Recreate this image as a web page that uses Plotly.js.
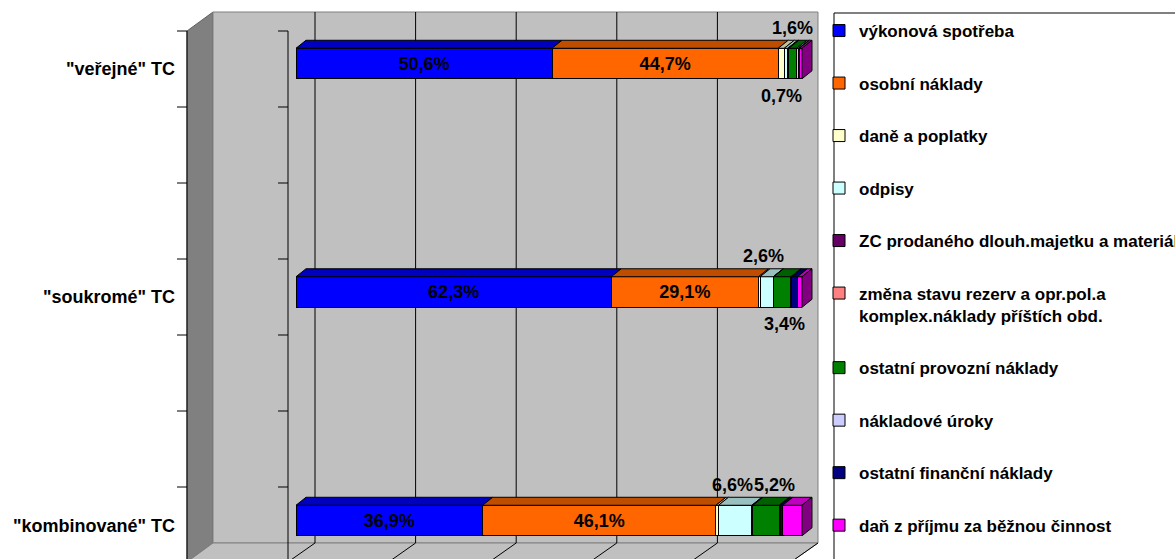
<!DOCTYPE html>
<html><head><meta charset="utf-8">
<script src="https://cdn.plot.ly/plotly-3.0.1.min.js"></script>
<style>html,body{margin:0;padding:0;background:#fff}#chart{width:1175px;height:559px}</style>
</head><body><div id="chart"></div>
<script>
// ---------------- DATA ----------------
const categories = ['"veřejné" TC', '"soukromé" TC', '"kombinované" TC'];
const seriesNames = [
  'výkonová spotřeba',
  'osobní náklady',
  'daně a poplatky',
  'odpisy',
  'ZC prodaného dlouh.majetku a materiálu',
  'změna stavu rezerv a opr.pol.a<br>komplex.náklady příštích obd.',
  'ostatní provozní náklady',
  'nákladové úroky',
  'ostatní finanční náklady',
  'daň z příjmu za běžnou činnost'
];
const vykonovaSpotreba = [50.6, 62.3, 36.9];
const osobniNaklady    = [44.7, 29.1, 46.1];
const danePoplatky     = [1.2, 0.3, 0.5];
const odpisy           = [0.7, 2.6, 6.6];
const zcProdaneho      = [0.1, 0.1, 0.2];
const zmenaRezerv      = [0.1, 0.0, 0.0];
const ostatniProvozni  = [1.6, 3.4, 5.2];
const nakladoveUroky   = [0.4, 0.2, 0.2];
const ostatniFinancni  = [0.1, 1.1, 0.5];
const danZPrijmu       = [0.5, 0.9, 3.8];
const seriesValues = [vykonovaSpotreba, osobniNaklady, danePoplatky, odpisy, zcProdaneho,
                      zmenaRezerv, ostatniProvozni, nakladoveUroky, ostatniFinancni, danZPrijmu];
const xTickValues = [0, 20, 40, 60, 80, 100];

// ---------------- STYLE ----------------
const colors = ['#0000FF','#FF6600','#FFFFCC','#CCFFFF','#660066','#FF8080','#008000','#CCCCFF','#000080','#FF00FF'];
const FONT = 'Liberation Sans, Arial, sans-serif';
const insideLabelSeries = [0, 1];
// outside labels: series index, category index, above/below, pixel x nudge
const outsideLabels = [
  {s:3, c:0, pos:'below', dx:-5}, {s:6, c:0, pos:'above', dx:0},
  {s:3, c:1, pos:'above', dx:-3}, {s:6, c:1, pos:'below', dx:2},
  {s:3, c:2, pos:'above', dx:-3}, {s:6, c:2, pos:'above', dx:8}
];

// ---------------- GEOMETRY ----------------
const W = 1175, H = 559;
const L = 296, R = 802;              // front face 0% and 100%
const PXU = (R - L) / 100;
const Y_TOP_IDX = -0.278, PX_PER_CAT = 228.5;
const BAR_W = 0.1335;
const BDX = 10, BDY = -8;            // bar depth offset
const WDX = 27, WDY = -19;           // wall depth offset
const FRONT0 = 288, WALL_TOP = 31, WALL_BOTTOM_FRONT = 562;
const yRange = [Y_TOP_IDX + H / PX_PER_CAT, Y_TOP_IDX];

const px = x => (x - L) / (R - L);
const py = y => 1 - y / H;
const yPx = i => (i - Y_TOP_IDX) * PX_PER_CAT;
function shade(hex, f) {
  const n = parseInt(hex.slice(1), 16);
  const r = Math.round(((n >> 16) & 255) * f), g = Math.round(((n >> 8) & 255) * f), b = Math.round((n & 255) * f);
  return `rgb(${r},${g},${b})`;
}
function poly(pts) {
  return 'M' + pts.map(p => px(p[0]).toFixed(5) + ',' + py(p[1]).toFixed(5)).join('L') + 'Z';
}

const shapes = [];
const SIDE_X = FRONT0 - 101;
const BACK_L = SIDE_X + WDX - 1, BACK_R = FRONT0 + WDX + 503, BACK_T = WALL_TOP + WDY, BACK_B = WALL_BOTTOM_FRONT + WDY;
// side wall
shapes.push({type:'path', xref:'paper', yref:'paper', layer:'below',
  path: poly([[SIDE_X,WALL_TOP],[BACK_L,BACK_T],[BACK_L,BACK_B],[SIDE_X,WALL_BOTTOM_FRONT]]),
  fillcolor:'#808080', line:{color:'#606060', width:1}});
// back wall
shapes.push({type:'path', xref:'paper', yref:'paper', layer:'below',
  path: poly([[BACK_L,BACK_T],[BACK_R,BACK_T],[BACK_R,BACK_B],[BACK_L,BACK_B]]),
  fillcolor:'#C0C0C0', line:{color:'#808080', width:1}});
// floor
shapes.push({type:'path', xref:'paper', yref:'paper', layer:'below',
  path: poly([[BACK_L,BACK_B],[BACK_R,BACK_B],[BACK_R-WDX,BACK_B-WDY],[SIDE_X,BACK_B-WDY]]),
  fillcolor:'#C0C0C0', line:{color:'#808080', width:1}});
// gridlines on back wall and floor
xTickValues.forEach(v => {
  const xb = FRONT0 + WDX + v * 5.03;
  if (v < 100) shapes.push({type:'line', xref:'paper', yref:'paper', layer:'below',
    x0:px(xb), x1:px(xb), y0:py(BACK_T), y1:py(BACK_B), line:{color:'#000000', width:1}});
  shapes.push({type:'line', xref:'paper', yref:'paper', layer:'below',
    x0:px(xb), x1:px(xb-WDX), y0:py(BACK_B), y1:py(BACK_B-WDY), line:{color:'#000000', width:1}});
});
// axis lines with ticks (side wall front edge and front axis)
[SIDE_X, FRONT0].forEach(xa => {
  shapes.push({type:'line', xref:'paper', yref:'paper', layer:'below',
    x0:px(xa), x1:px(xa), y0:py(WALL_TOP), y1:py(WALL_BOTTOM_FRONT), line:{color:'#000000', width:1}});
  for (let k = 0; k < 8; k++) {
    const yt = WALL_TOP + k * 76;
    shapes.push({type:'line', xref:'paper', yref:'paper', layer:'below',
      x0:px(xa-10), x1:px(xa), y0:py(yt), y1:py(yt), line:{color:'#000000', width:1}});
  }
});
// legend frame
shapes.push({type:'rect', xref:'paper', yref:'paper', layer:'below',
  x0:px(834), x1:px(1190), y0:py(13), y1:py(575), fillcolor:'#FFFFFF', line:{color:'#000000', width:1}});

// 3D bar faces derived from data
categories.forEach((cat, i) => {
  let cum = 0, lastIdx = -1, lastR = 0;
  const yT = yPx(i) - BAR_W * PX_PER_CAT / 2, yB = yPx(i) + BAR_W * PX_PER_CAT / 2;
  seriesValues.forEach((vals, s) => {
    const v = vals[i];
    if (v <= 0) return;
    const XL = L + cum * PXU, XR = L + (cum + v) * PXU;
    shapes.push({type:'path', xref:'paper', yref:'paper', layer:'above',
      path: poly([[XL,yT],[XL+BDX,yT+BDY],[XR+BDX,yT+BDY],[XR,yT]]),
      fillcolor: shade(colors[s], 0.75), line:{color:'#000000', width:1}});
    cum += v; lastIdx = s; lastR = XR;
  });
  if (lastIdx >= 0) {
    shapes.push({type:'path', xref:'paper', yref:'paper', layer:'above',
      path: poly([[lastR,yT],[lastR+BDX,yT+BDY],[lastR+BDX,yB+BDY],[lastR,yB]]),
      fillcolor: shade(colors[lastIdx], 0.5), line:{color:'#000000', width:1}});
  }
});

// ---------------- TRACES ----------------
const traces = seriesValues.map((vals, s) => ({
  type:'bar', orientation:'h', name: seriesNames[s], legendgroup: 'g' + s,
  x: vals, y: categories, width: BAR_W,
  marker:{color: colors[s], line:{color:'#000000', width:1}},
  texttemplate: insideLabelSeries.includes(s) ? '%{x:.1f}%' : '',
  textposition: insideLabelSeries.includes(s) ? 'inside' : 'none',
  insidetextanchor: 'middle', textangle: 0,
  insidetextfont:{family:FONT, size:18, color:'#000000', weight:'bold'},
  hoverinfo:'name+x'
}));

// outside labels
const annotations = outsideLabels.map(o => {
  let cum = 0;
  for (let s = 0; s < o.s; s++) cum += seriesValues[s][o.c];
  const v = seriesValues[o.s][o.c];
  return {xref:'x', yref:'y', x: cum + v / 2, y: categories[o.c], showarrow:false,
    text: v.toFixed(1).replace('.', ',') + '%', xshift:o.dx, yshift: o.pos === 'above' ? 36 : -32,
    font:{family:FONT, size:18, color:'#000000', weight:'bold'}};
});

const layout = {
  width: W, height: H,
  margin:{l:L, r:W-R, t:0, b:0, pad:0, autoexpand:false},
  paper_bgcolor:'#FFFFFF', plot_bgcolor:'rgba(0,0,0,0)',
  barmode:'stack', separators:', ',
  font:{family:FONT, size:17, color:'#000000'},
  xaxis:{range:[0,100], showgrid:false, zeroline:false, showticklabels:false, showline:false, fixedrange:true, automargin:false},
  yaxis:{type:'category', categoryarray:categories, range:yRange, autorange:false,
    showgrid:false, zeroline:false, showline:false, ticks:'', automargin:false,
    ticklabelstandoff:120, ticklabelshift:-5,
    tickfont:{family:FONT, size:18, color:'#000000', weight:'bold'}},
  showlegend:true,
  legend:{x:px(824), xanchor:'left', y:py(13), yanchor:'top', bgcolor:'rgba(0,0,0,0)', borderwidth:0,
    traceorder:'grouped', tracegroupgap:27.4, valign:'top', indentation:-5,
    font:{family:FONT, size:17, color:'#000000', weight:'bold'}},
  shapes, annotations
};
Plotly.newPlot('chart', traces, layout, {displayModeBar:false, staticPlot:true});
</script></body></html>
